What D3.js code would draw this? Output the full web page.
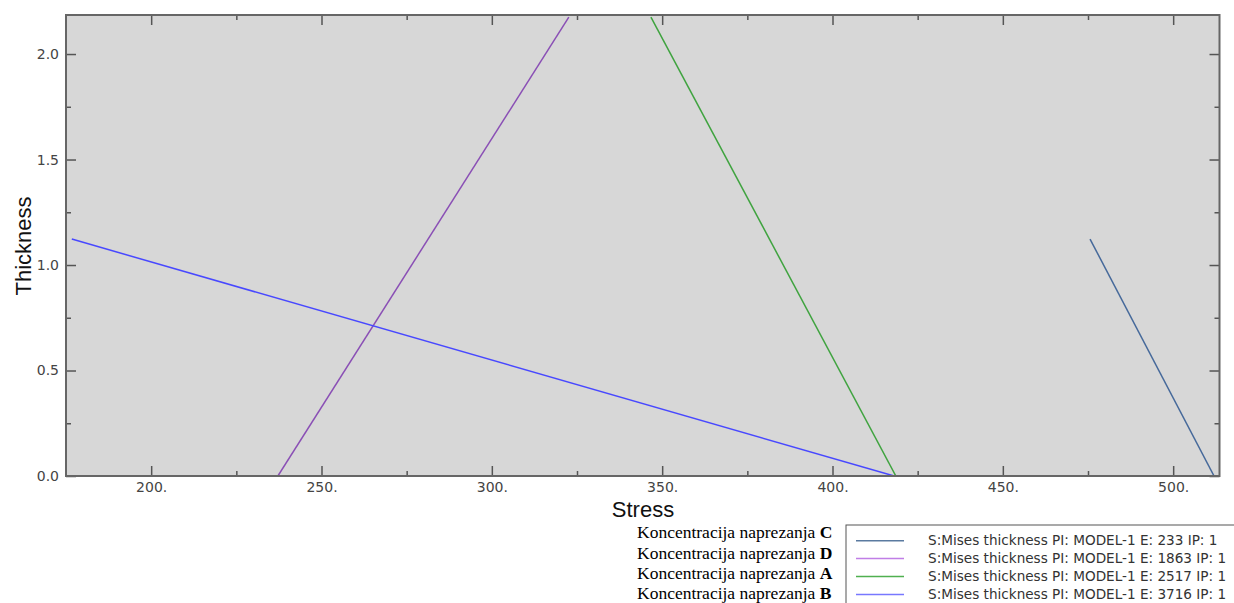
<!DOCTYPE html>
<html><head><meta charset="utf-8">
<script src="https://cdn.jsdelivr.net/npm/d3@7"></script>
<style>
body{margin:0;background:#fff;}
svg{display:block;}
</style></head>
<body>
<svg id="chart" width="1234" height="603"></svg>
<script>
// ---- data ----
const seriesNames = ["C", "D", "A", "B"];
const legendLabels = [
  "S:Mises thickness PI: MODEL-1 E: 233 IP: 1",
  "S:Mises thickness PI: MODEL-1 E: 1863 IP: 1",
  "S:Mises thickness PI: MODEL-1 E: 2517 IP: 1",
  "S:Mises thickness PI: MODEL-1 E: 3716 IP: 1"
];
const stressC = [475.6, 512.0];
const thickC  = [1.123, 0.0];
const stressD = [237.2, 322.6];
const thickD  = [0.0, 2.175];
const stressA = [346.7, 418.6];
const thickA  = [2.175, 0.0];
const stressB = [176.7, 418.1];
const thickB  = [1.123, 0.0];
const xMajorTicks = [200, 250, 300, 350, 400, 450, 500];
const xMinorTicks = [225, 275, 325, 375, 425, 475];
const yMajorTicks = [0.0, 0.5, 1.0, 1.5, 2.0];
const yMinorTicks = [0.25, 0.75, 1.25, 1.75];
const xDomain = [175, 513.6];
const yDomain = [0, 2.185];

const lineColors = ["#46699a", "#8a4fb5", "#3fa33f", "#4848ff"];
const legendColors = ["#5a7aa0", "#c07ee6", "#50b050", "#7878ff"];

const series = [
  {name: "C", xs: stressC, ys: thickC},
  {name: "D", xs: stressD, ys: thickD},
  {name: "A", xs: stressA, ys: thickA},
  {name: "B", xs: stressB, ys: thickB}
];

const svg = d3.select("#chart");
const L = 66, R = 1219.5, T = 15, B = 476;
const x = d3.scaleLinear().domain(xDomain).range([L, R]);
const y = d3.scaleLinear().domain(yDomain).range([B, T]);

// plot background
svg.append("rect").attr("x", L).attr("y", T).attr("width", R - L).attr("height", B - T)
  .attr("fill", "#d7d7d7");

// clip
svg.append("clipPath").attr("id", "clip").append("rect")
  .attr("x", L).attr("y", T).attr("width", R - L).attr("height", B - T);

// lines
const line = d3.line().x(d => x(d[0])).y(d => y(d[1]));
svg.append("g").attr("clip-path", "url(#clip)")
  .selectAll("path").data(series).join("path")
  .attr("d", s => line(s.xs.map((v, i) => [v, s.ys[i]])))
  .attr("fill", "none")
  .attr("stroke", (s, i) => lineColors[i])
  .attr("stroke-width", 1.5);

// axes
function styleAxis(g) {
  g.select(".domain").remove();
  g.selectAll(".tick line").attr("stroke", "#555").attr("stroke-width", 1.5);
  g.selectAll(".tick text").attr("fill", "#444")
    .attr("font-family", "DejaVu Sans, Verdana, sans-serif").attr("font-size", 14);
}
const fmtX = d => d + ".";
const fmtY = d3.format(".1f");

// bottom
svg.append("g").attr("transform", `translate(0,${B})`)
  .call(d3.axisBottom(x).tickValues(xMajorTicks).tickSizeInner(-10).tickSizeOuter(0).tickPadding(6).tickFormat(fmtX))
  .call(styleAxis);
svg.append("g").attr("transform", `translate(0,${B})`)
  .call(d3.axisBottom(x).tickValues(xMinorTicks).tickSizeInner(-5).tickSizeOuter(0).tickFormat(""))
  .call(styleAxis);
// top
svg.append("g").attr("transform", `translate(0,${T})`)
  .call(d3.axisTop(x).tickValues(xMajorTicks).tickSizeInner(-10).tickSizeOuter(0).tickFormat(""))
  .call(styleAxis);
svg.append("g").attr("transform", `translate(0,${T})`)
  .call(d3.axisTop(x).tickValues(xMinorTicks).tickSizeInner(-5).tickSizeOuter(0).tickFormat(""))
  .call(styleAxis);
// left
svg.append("g").attr("transform", `translate(${L},0)`)
  .call(d3.axisLeft(y).tickValues(yMajorTicks).tickSizeInner(-10).tickSizeOuter(0).tickPadding(7).tickFormat(fmtY))
  .call(styleAxis);
svg.append("g").attr("transform", `translate(${L},0)`)
  .call(d3.axisLeft(y).tickValues(yMinorTicks).tickSizeInner(-5).tickSizeOuter(0).tickFormat(""))
  .call(styleAxis);
// right
svg.append("g").attr("transform", `translate(${R},0)`)
  .call(d3.axisRight(y).tickValues(yMajorTicks).tickSizeInner(-10).tickSizeOuter(0).tickFormat(""))
  .call(styleAxis);
svg.append("g").attr("transform", `translate(${R},0)`)
  .call(d3.axisRight(y).tickValues(yMinorTicks).tickSizeInner(-5).tickSizeOuter(0).tickFormat(""))
  .call(styleAxis);

// frame
svg.append("rect").attr("x", L).attr("y", T).attr("width", R - L).attr("height", B - T)
  .attr("fill", "none").attr("stroke", "#666").attr("stroke-width", 2);

// axis titles
svg.append("text").attr("x", 643).attr("y", 517).attr("text-anchor", "middle")
  .attr("font-family", "Liberation Sans, Arial, sans-serif").attr("font-size", 22)
  .attr("fill", "#111").text("Stress");
svg.append("text").attr("transform", "translate(31,246) rotate(-90)").attr("text-anchor", "middle")
  .attr("font-family", "Liberation Sans, Arial, sans-serif").attr("font-size", 22)
  .attr("fill", "#111").text("Thickness");

// left-side captions
const capY = [538, 558.5, 578.5, 598.5];
const cap = svg.append("g");
seriesNames.forEach((n, i) => {
  const t = cap.append("text").attr("x", 637).attr("y", capY[i])
    .attr("font-family", "Liberation Serif, Times New Roman, serif").attr("font-size", 17.5)
    .attr("fill", "#000");
  t.append("tspan").text("Koncentracija naprezanja ");
  t.append("tspan").attr("font-weight", "bold").text(n);
});

// legend box
svg.append("rect").attr("x", 846).attr("y", 525).attr("width", 400).attr("height", 100)
  .attr("fill", "#fff").attr("stroke", "#555").attr("stroke-width", 1);
const rowY = [540.7, 558.5, 576.5, 594.5];
const lg = svg.append("g");
legendLabels.forEach((lab, i) => {
  lg.append("line").attr("x1", 856).attr("x2", 904).attr("y1", rowY[i]).attr("y2", rowY[i])
    .attr("stroke", legendColors[i]).attr("stroke-width", 1.5);
  lg.append("text").attr("x", 928).attr("y", rowY[i]).attr("dy", "0.35em")
    .attr("font-family", "DejaVu Sans, Verdana, sans-serif").attr("font-size", 13.6)
    .attr("fill", "#333").text(lab);
});
</script>
</body></html>
